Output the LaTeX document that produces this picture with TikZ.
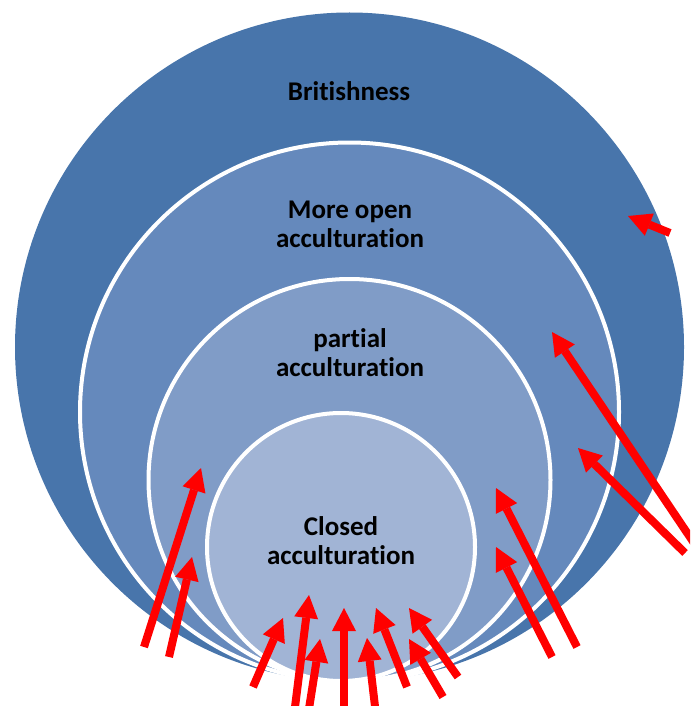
\documentclass[tikz,border=0pt]{standalone}
\usepackage{fontspec}
\setmainfont{Carlito}[Ligatures=NoCommon]
\usetikzlibrary{arrows.meta}

\definecolor{ringOuter}{RGB}{72,117,171}
\definecolor{ringOpen}{RGB}{101,137,188}
\definecolor{ringPartial}{RGB}{128,156,199}
\definecolor{ringClosed}{RGB}{161,180,213}
\definecolor{pushRed}{RGB}{255,0,0}

\begin{document}
\begin{tikzpicture}[x=1pt,y=-1pt,
  ring/.style={draw=white, line width=4pt},
  ringtext/.style={font=\bfseries\fontsize{27}{29}\selectfont, text=black,
    anchor=base, inner sep=0pt},
  push/.style={draw=pushRed, line width=8pt,
    -{Triangle[length=23pt,width=24pt,line width=0pt]}}]
\useasboundingbox (0,0) rectangle (690,706);
\clip (0,0) rectangle (690,706);

% nested circles, all touching near the bottom
\fill[ringOuter] (349.5,347) circle[radius=334.5];
\draw[ring, fill=ringOpen] (349.5,412) circle[radius=269.5];
\draw[ring, fill=ringPartial] (349.5,480) circle[radius=201];
\draw[ring, fill=ringClosed] (341,547) circle[radius=134];

% circle labels
\node[ringtext] (brit) at (349,101) {Britishness};
\node[ringtext] (open1) at (350,218) {More open};
\node[ringtext] (open2) at (350,247) {acculturation};
\node[ringtext] (part1) at (350,347) {partial};
\node[ringtext] (part2) at (350,376) {acculturation};
\node[ringtext] (closed1) at (341,535) {Closed};
\node[ringtext] (closed2) at (341,564) {acculturation};

% arrow tails and heads
\coordinate (t1) at (670,233);  \coordinate (h1) at (628,216);
\coordinate (t2) at (700,552);  \coordinate (h2) at (552,332);
\coordinate (t3) at (685,553);  \coordinate (h3) at (578,448);
\coordinate (t4) at (577,647);  \coordinate (h4) at (496,488);
\coordinate (t5) at (552,657);  \coordinate (h5) at (496,547);
\coordinate (t6) at (144,647);  \coordinate (h6) at (201,468);
\coordinate (t7) at (169,657);  \coordinate (h7) at (192,557);
\coordinate (t8) at (253,687);  \coordinate (h8) at (283,618);
\coordinate (t9) at (294,715);  \coordinate (h9) at (309,595);
\coordinate (t10) at (308,715); \coordinate (h10) at (320,639);
\coordinate (t11) at (344,715); \coordinate (h11) at (344,608);
\coordinate (t12) at (376,715); \coordinate (h12) at (367,638);
\coordinate (t13) at (407,687); \coordinate (h13) at (376,608);
\coordinate (t14) at (443,697); \coordinate (h14) at (409,639);
\coordinate (t15) at (458,677); \coordinate (h15) at (409,608);

\foreach \i in {1,...,15} {
  \draw[push] (t\i) -- (h\i);
}
\end{tikzpicture}
\end{document}
